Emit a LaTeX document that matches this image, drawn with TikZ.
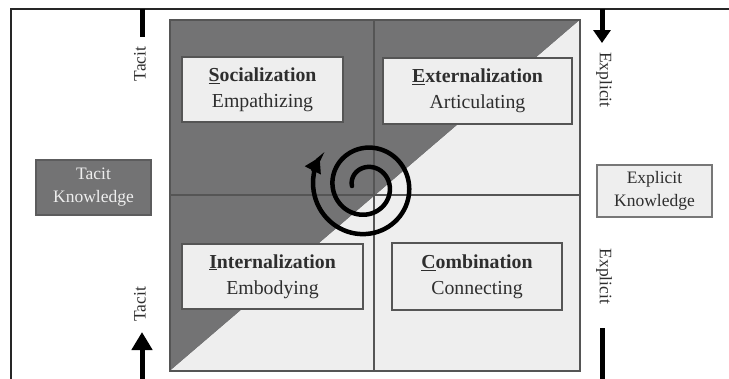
\documentclass[tikz,border=0pt]{standalone}
\usepackage{fontspec}
\setmainfont{Liberation Serif}
\usetikzlibrary{arrows.meta}
\definecolor{darkq}{HTML}{737374}
\definecolor{lightq}{HTML}{EEEEEE}
\definecolor{rulegray}{HTML}{555555}
\definecolor{ink}{HTML}{2E2E2E}
\begin{document}
\begin{tikzpicture}[x=1pt,y=-1pt,
  modebox/.style={draw=rulegray, fill=lightq, line width=1.1pt, inner sep=0pt,
    align=center, text=ink, font=\fontsize{19.8}{26}\selectfont},
  sidebox/.style={line width=1.1pt, inner sep=0pt, align=center,
    font=\fontsize{17.5}{23}\selectfont, minimum width=115pt},
  axislabel/.style={font=\fontsize{17.5}{20}\selectfont, text=ink, inner sep=0pt},
  heavy/.style={line width=5pt, black},
  gridline/.style={draw=rulegray, line width=1.2pt},
]
\useasboundingbox (0,0) rectangle (729,378);
\clip (0,0) rectangle (729,378);

% outer frame (runs off the page on the right and bottom)
\draw[line width=1.4pt, black!85] (11,9) rectangle (760,400);

% SECI square: tacit half above the diagonal, explicit half below
\coordinate (sqNW) at (170,20);
\coordinate (sqNE) at (580,20);
\coordinate (sqSW) at (170,371);
\coordinate (sqSE) at (580,371);
\fill[darkq] (sqNW) -- (sqNE) -- (sqSW) -- cycle;
\fill[lightq] (sqNE) -- (sqSE) -- (sqSW) -- cycle;
\draw[gridline] (374,20) -- (374,371);
\draw[gridline] (170,195) -- (580,195);
\draw[gridline] (sqNW) rectangle (sqSE);

% the four modes
\node[modebox, minimum width=161pt, minimum height=65pt] (soc) at (262.5,89.5)
  {\textbf{\underline{S}ocialization}\\Empathizing};
\node[modebox, minimum width=189pt, minimum height=66pt] (ext) at (477.5,91)
  {\textbf{\underline{E}xternalization}\\Articulating};
\node[modebox, minimum width=181pt, minimum height=65pt] (int) at (272.5,276.5)
  {\textbf{\underline{I}nternalization}\\Embodying};
\node[modebox, minimum width=170pt, minimum height=67pt] (com) at (477,276.5)
  {\textbf{\underline{C}ombination}\\Connecting};

% knowledge types
\node[sidebox, fill=darkq, draw=darkq!80!black, text=lightq, minimum height=55pt]
  (tacitk) at (93.5,187.5) {Tacit\\Knowledge};
\node[sidebox, fill=lightq, draw=rulegray!80, text=ink, minimum height=52pt]
  (explk) at (654.5,191) {Explicit\\Knowledge};

% left axis: tacit
\coordinate (tlTop) at (142,9);
\coordinate (tlEnd) at (142,37);
\draw[heavy] (tlTop) -- (tlEnd);
\node[axislabel, rotate=90] (tacitTop) at (140,64) {Tacit};
\coordinate (blBase) at (142,390);
\coordinate (blTip) at (142,332);
\draw[heavy, -{Triangle[length=18pt, width=20pt]}] (blBase) -- (blTip);
\node[axislabel, rotate=90] (tacitBot) at (140,304.5) {Tacit};

% right axis: explicit
\coordinate (trTop) at (602,9);
\coordinate (trTip) at (602,43);
\draw[heavy, -{Triangle[length=13pt, width=17pt]}] (trTop) -- (trTip);
\node[axislabel, rotate=-90] (explTop) at (604,80) {Explicit};
\coordinate (brTop) at (602,328);
\coordinate (brBase) at (602,390);
\draw[heavy] (brTop) -- (brBase);
\node[axislabel, rotate=-90] (explBot) at (604,276.5) {Explicit};

% knowledge spiral, winding outward clockwise
\draw[line width=4.5pt, black, line cap=round, -{Triangle[length=15pt, width=17pt]}]
  plot[domain=0:752, samples=160, smooth]
  ({366+(14+0.054*\x)*cos(180+\x)}, {186+(14+0.054*\x)*sin(180+\x)});
\end{tikzpicture}
\end{document}
